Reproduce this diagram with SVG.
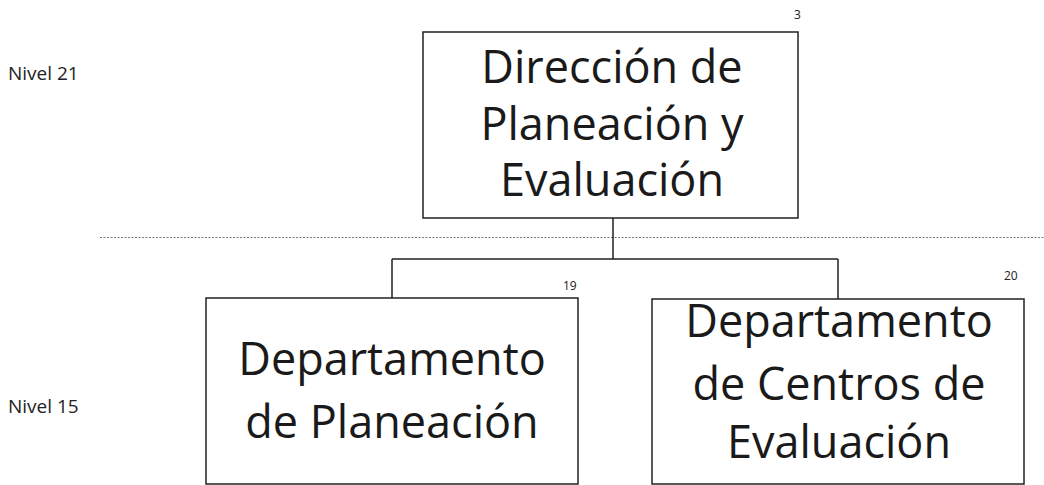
<svg xmlns="http://www.w3.org/2000/svg" width="1044" height="485" viewBox="0 0 1044 485">
<style>
.box{fill:#fff;stroke:#222;stroke-width:1.5}
.big{font-family:"Open Sans","Noto Sans",sans-serif;font-size:45px;fill:#1a1a1a;text-anchor:middle}
.lvl{font-family:"Open Sans","Noto Sans",sans-serif;font-size:19px;fill:#222}
.num{font-family:"Open Sans","Noto Sans",sans-serif;font-size:12px;fill:#222}
.con{fill:none;stroke:#222;stroke-width:1.5}
.sep{stroke:#777;stroke-width:1;stroke-dasharray:2 1.5}
</style>
<rect width="1044" height="485" fill="#fff"/>
<g id="levels">
<text class="lvl" x="8" y="80">Nivel 21</text>
<text class="lvl" x="8" y="413">Nivel 15</text>
<line class="sep" x1="100" y1="237.5" x2="1044" y2="237.5"/>
</g>
<g id="connectors">
<path class="con" d="M613 218 V259 M392 259 H838 M392 259 V298 M838 259 V299"/>
</g>
<g id="node-direccion">
<rect class="box" x="423" y="32" width="375" height="186"/>
<text class="big" x="612" y="83">Dirección de</text>
<text class="big" x="612" y="140">Planeación y</text>
<text class="big" x="612" y="196">Evaluación</text>
<text class="num" x="794" y="19">3</text>
</g>
<g id="node-planeacion">
<rect class="box" x="206" y="298" width="372" height="186"/>
<text class="big" x="392" y="375">Departamento</text>
<text class="big" x="392" y="438">de Planeación</text>
<text class="num" x="563" y="290">19</text>
</g>
<g id="node-centros">
<rect class="box" x="652" y="299" width="372" height="185"/>
<text class="big" x="839" y="337">Departamento</text>
<text class="big" x="839" y="400">de Centros de</text>
<text class="big" x="839" y="458">Evaluación</text>
<text class="num" x="1004" y="280">20</text>
</g>
</svg>
